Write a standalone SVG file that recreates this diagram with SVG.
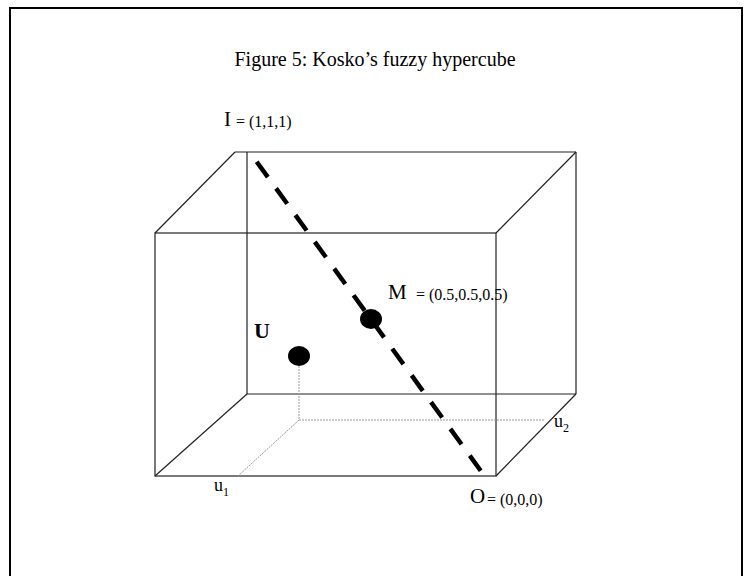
<svg xmlns="http://www.w3.org/2000/svg" width="751" height="576" viewBox="0 0 751 576">
<style>
  .frame{fill:none;stroke:#000;stroke-width:2}
  .edge{stroke:#222;stroke-width:1.2;fill:none}
  .dot{stroke:#999;stroke-width:1;stroke-dasharray:2 1;fill:none}
  .diag{stroke:#000;stroke-width:4.5;stroke-dasharray:19 14;fill:none}
  .pt{fill:#000}
  text{font-family:"Liberation Serif","Times New Roman",serif;fill:#000}
  .big{font-size:21px}
  .sm{font-size:16px}
</style>
<rect width="751" height="576" fill="#fff"/>
<rect class="frame" x="10" y="8" width="732" height="620"/>
<text x="375" y="66" font-size="20" text-anchor="middle">Figure 5: Kosko’s fuzzy hypercube</text>
<g id="cube">
  <rect class="edge" x="155" y="233" width="341" height="243"/>
  <line class="edge" x1="235" y1="152" x2="576" y2="152"/>
  <line class="edge" x1="247" y1="152" x2="247" y2="394"/>
  <line class="edge" x1="247" y1="394" x2="576" y2="394"/>
  <line class="edge" x1="576" y1="152" x2="576" y2="394"/>
  <line class="edge" x1="155" y1="233" x2="235" y2="152"/>
  <line class="edge" x1="496" y1="233" x2="576" y2="152"/>
  <line class="edge" x1="155" y1="476" x2="247" y2="394"/>
  <line class="edge" x1="496" y1="476" x2="576" y2="394"/>
</g>
<g id="connectors">
  <polyline class="dot" points="299,366 299,420 545,420"/>
  <line class="dot" x1="299" y1="420" x2="238" y2="476"/>
  <line class="diag" x1="256.7" y1="161.7" x2="480.7" y2="470.7"/>
</g>
<g id="node-I">
  <text y="126"><tspan class="big" x="224">I</tspan><tspan class="sm" x="236" dy="1">= (1,1,1)</tspan></text>
</g>
<g id="node-M">
  <ellipse class="pt" cx="371" cy="319" rx="11" ry="10"/>
  <text y="299"><tspan class="big" x="388" font-size="23px">M</tspan><tspan class="sm" x="416" dy="1" font-size="16.8px">= (0.5,0.5,0.5)</tspan></text>
</g>
<g id="node-U">
  <ellipse class="pt" cx="299" cy="356" rx="11" ry="10"/>
  <text x="254" y="338" font-size="22" font-weight="bold">U</text>
</g>
<g id="node-O">
  <text y="503"><tspan class="big" x="470" font-size="23px">O</tspan><tspan class="sm" x="487" dy="2">= (0,0,0)</tspan></text>
</g>
<g id="axis-u1">
  <text x="214" y="491" font-size="18">u<tspan font-size="12" dy="5">1</tspan></text>
</g>
<g id="axis-u2">
  <text x="554" y="427" font-size="18">u<tspan font-size="12" dy="5">2</tspan></text>
</g>
</svg>
